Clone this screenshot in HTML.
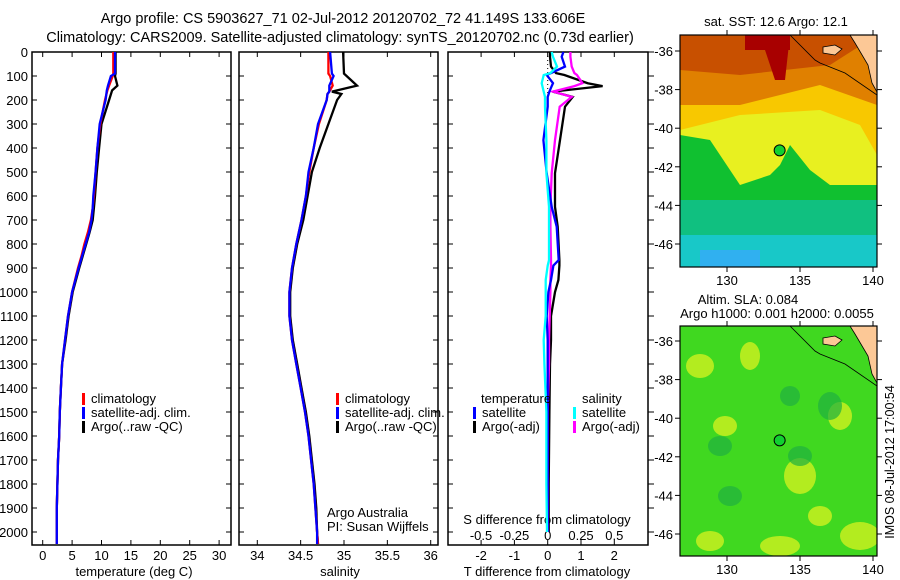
<!DOCTYPE html>
<html><head><meta charset="utf-8">
<style>
html,body{margin:0;padding:0;background:#fff;}
svg{display:block;font-family:"Liberation Sans",sans-serif;}
text{font-size:13px;fill:#000;}
</style></head>
<body>
<svg id="fig" width="900" height="580" viewBox="0 0 900 580" xmlns="http://www.w3.org/2000/svg">
<text x="343" y="23" text-anchor="middle" style="font-size:14.5px">Argo profile: CS 5903627_71 02-Jul-2012 20120702_72 41.149S 133.606E</text>
<text x="340" y="42" text-anchor="middle" style="font-size:14.5px">Climatology: CARS2009. Satellite-adjusted climatology: synTS_20120702.nc (0.73d earlier)</text>
<g id="plots"></g>
<g id="maps"></g>
</svg>
<script>
// ---- data (depth in dbar) ----
const tDepth = [0, 90, 100, 140, 160, 200, 300, 400, 500, 600, 650, 700, 750, 800, 850, 900, 1000, 1100, 1200, 1300, 1400, 1500, 1600, 1700, 1800, 1900, 2000, 2050];
const tClim  = [12.0, 12.0, 11.9, 11.3, 11.0, 10.6, 9.8, 9.3, 9.0, 8.7, 8.5, 8.2, 7.7, 7.1, 6.6, 6.0, 5.0, 4.3, 3.8, 3.3, 3.1, 2.9, 2.8, 2.6, 2.5, 2.4, 2.4, 2.4];
const tSat   = [12.3, 12.3, 11.6, 11.1, 10.9, 10.7, 9.7, 9.3, 9.0, 8.6, 8.5, 8.3, 7.9, 7.3, 6.7, 6.1, 5.0, 4.3, 3.8, 3.3, 3.1, 2.9, 2.8, 2.6, 2.5, 2.4, 2.4, 2.4];
const tArgo  = [12.4, 12.4, 12.3, 12.7, 11.8, 11.3, 10.0, 9.6, 9.2, 8.9, 8.7, 8.5, 8.0, 7.4, 6.8, 6.2, 5.1, 4.4, 3.9, 3.3, 3.1, 2.9, 2.8, 2.6, 2.5, 2.4, 2.4, 2.4];
const sDepth = [0, 90, 100, 140, 165, 175, 200, 300, 400, 500, 600, 700, 800, 900, 1000, 1100, 1200, 1300, 1400, 1500, 1600, 1700, 1800, 1900, 2000, 2050];
const sClim  = [34.82, 34.82, 34.84, 34.87, 34.83, 34.81, 34.80, 34.71, 34.65, 34.60, 34.56, 34.51, 34.45, 34.40, 34.37, 34.37, 34.40, 34.45, 34.50, 34.55, 34.59, 34.62, 34.65, 34.67, 34.69, 34.70];
const sSat   = [34.84, 34.86, 34.88, 34.83, 34.83, 34.81, 34.80, 34.70, 34.65, 34.59, 34.56, 34.51, 34.45, 34.40, 34.37, 34.37, 34.40, 34.45, 34.50, 34.55, 34.59, 34.62, 34.65, 34.67, 34.69, 34.69];
const sArgo  = [34.99, 35.00, 35.03, 35.15, 34.86, 34.97, 34.92, 34.82, 34.72, 34.63, 34.58, 34.53, 34.46, 34.41, 34.38, 34.38, 34.41, 34.46, 34.51, 34.56, 34.60, 34.63, 34.66, 34.68, 34.69, 34.70];
const dDepth = [0, 20, 61, 88, 96, 130, 142, 165, 187, 228, 367, 505, 645, 728, 867, 890, 950, 1000, 1100, 1200, 1300, 1500, 1800, 2000];
const dTSat  = [0.47, 0.42, 0.52, 0.1, -0.03, 0.16, 0.12, 0.05, 0.0, 0.0, -0.13, -0.03, 0.12, 0.27, 0.33, 0.17, 0.1, 0.02, -0.03, 0.0, 0.0, 0.0, 0.0, 0.0];
const dTArgo = [0.07, 0.07, 0.1, 0.25, 0.5, 1.2, 1.65, 0.15, 0.75, 0.52, 0.37, 0.22, 0.22, 0.3, 0.35, 0.35, 0.32, 0.22, 0.1, 0.1, 0.07, 0.05, 0.03, 0.03];
const dSSat  = [0.03, 0.04, 0.07, 0.02, -0.03, -0.045, -0.04, -0.03, -0.02, -0.02, -0.01, -0.01, 0.01, 0.01, 0.01, 0.0, -0.015, -0.015, -0.015, -0.03, -0.025, -0.01, -0.01, -0.005];
const dSArgo = [0.17, 0.17, 0.18, 0.2, 0.22, 0.26, 0.2, 0.04, 0.18, 0.09, 0.055, 0.03, 0.02, 0.02, 0.025, 0.025, 0.02, 0.02, 0.015, 0.01, 0.01, 0.0, 0.0, 0.0];
const depthTicks = [0,100,200,300,400,500,600,700,800,900,1000,1100,1200,1300,1400,1500,1600,1700,1800,1900,2000];
const tTicks = [0,5,10,15,20,25,30];
const sTicks = [34,34.5,35,35.5,36];
const dTTicks = [-2,-1,0,1,2];
const dSTicks = [-0.5,-0.25,0,0.25,0.5];
const lonTicks = [130,135,140];
const latTicks = [-36,-38,-40,-42,-44,-46];

const NS="http://www.w3.org/2000/svg";
function mk(tag, attrs, parent){const e=document.createElementNS(NS,tag);for(const k in attrs)e.setAttribute(k,attrs[k]);(parent||document.getElementById('plots')).appendChild(e);return e;}
const yD = d => 52 + 0.24*d;
const xT = t => 42.7 + 5.88*t;
const xS = s => 257.3 + 86.7*(s-34);
const xDT = v => 547.7 + 33.3*v;
const xDS = v => 547.7 + 133.3*v;
function stepPath(xs, ds, fx){let p='';for(let i=0;i<xs.length;i++){p+=(i?'L':'M')+fx(xs[i]).toFixed(1)+','+yD(ds[i]).toFixed(1);}return p;}

const panels=[{x0:32,x1:231,name:'temperature-panel'},{x0:239,x1:438,name:'salinity-panel'},{x0:448,x1:648,name:'difference-panel'}];
panels.forEach((p,i)=>{
  const g=mk('g',{});
  
  
  const r=mk('rect',{x:p.x0,y:52,width:p.x1-p.x0,height:493,fill:'none',stroke:'#000','stroke-width':1.5},g);
  
  
  depthTicks.forEach(d=>{
    mk('line',{x1:p.x0,x2:p.x0+5,y1:yD(d),y2:yD(d),stroke:'#000'},g);
    if(i<2) mk('line',{x1:p.x1-5,x2:p.x1,y1:yD(d),y2:yD(d),stroke:'#000'},g);
    else mk('line',{x1:p.x1,x2:p.x1+6,y1:yD(d),y2:yD(d),stroke:'#000'},g);
  });
});
depthTicks.forEach(d=>{const t=mk('text',{x:28,y:yD(d)+5,'text-anchor':'end'});t.textContent=d;
  
  });
function xTicks(vals, fx, y, labelFmt, top){vals.forEach(v=>{const x=fx(v);mk('line',{x1:x,x2:x,y1:545,y2:540,stroke:'#000'});if(top)mk('line',{x1:x,x2:x,y1:52,y2:57,stroke:'#000'});
  const t=mk('text',{x:x,y:y,'text-anchor':'middle'});t.textContent=labelFmt(v);
  
  });}
xTicks(tTicks,xT,560,v=>v,true);
xTicks(sTicks,xS,560,v=>v,true);
xTicks(dTTicks,xDT,560,v=>v,true);
dSTicks.forEach(v=>{const t=mk('text',{x:xDS(v),y:540,'text-anchor':'middle'});t.textContent=(v<0?'-':'')+String(Math.abs(v));
  
  });
function label(x,y,s,name,anchor){const t=mk('text',{x:x,y:y,'text-anchor':anchor||'middle'});t.textContent=s;
  
  return t;}
label(134,576,'temperature (deg C)','temperature-axis-title');
label(340,576,'salinity','salinity-axis-title');
label(547,576,'T difference from climatology','t-difference-axis-title');
label(547,524,'S difference from climatology','s-difference-axis-title');
function series(xs,ds,fx,color,name){const p=mk('path',{d:stepPath(xs,ds,fx),fill:'none',stroke:color,'stroke-width':2.3,'stroke-linejoin':'miter'});
  
  }
series(tArgo,tDepth,xT,'#000','temperature-argo-line');
series(tClim,tDepth,xT,'#ff0000','temperature-climatology-line');
series(tSat,tDepth,xT,'#0000ff','temperature-satellite-line');
series(sArgo,sDepth,xS,'#000','salinity-argo-line');
series(sClim,sDepth,xS,'#ff0000','salinity-climatology-line');
series(sSat,sDepth,xS,'#0000ff','salinity-satellite-line');
mk('line',{x1:xDT(0),x2:xDT(0),y1:52,y2:110,stroke:'#000','stroke-dasharray':'1,3'});
series(dTArgo,dDepth,xDT,'#000','t-diff-argo-line');
series(dSArgo,dDepth,xDS,'#ff00ff','s-diff-argo-line');
series(dTSat,dDepth,xDT,'#0000ff','t-diff-satellite-line');
series(dSSat,dDepth,xDS,'#00ffff','s-diff-satellite-line');
function legend(x,y,color,s,name){mk('rect',{x:x-1,y:y-10,width:3,height:12,fill:color});label(x+8,y,s,name,'start');}
legend(83,403,'#ff0000','climatology','legend-climatology');
legend(83,417,'#0000ff','satellite-adj. clim.','legend-satellite-adj');
legend(83,431,'#000','Argo(..raw -QC)','legend-argo');
legend(337,403,'#ff0000','climatology','legend-climatology-2');
legend(337,417,'#0000ff','satellite-adj. clim.','legend-satellite-adj-2');
legend(337,431,'#000','Argo(..raw -QC)','legend-argo-2');
label(327,517,'Argo Australia','credit-argo-australia','start');
label(327,531,'PI: Susan Wijffels','credit-pi','start');
label(481,403,'temperature','legend-temperature-heading','start');
legend(474,417,'#0000ff','satellite','legend-t-satellite');
legend(474,431,'#000','Argo(-adj)','legend-t-argo');
label(582,403,'salinity','legend-salinity-heading','start');
legend(574,417,'#00ffff','satellite','legend-s-satellite');
legend(574,431,'#ff00ff','Argo(-adj)','legend-s-argo');

// ---- maps ----
const M=document.getElementById('maps');
function mapFrame(y0,y1,lat36,kind){
  const g=mk('g',{},M);
  
  
  const x0=680,x1=877,w=x1-x0,h=y1-y0;
  const cid='clip'+kind;
  const cp=mk('clipPath',{id:cid},g);mk('rect',{x:x0,y:y0,width:w,height:h},cp);
  const c=mk('g',{'clip-path':'url(#'+cid+')'},g);
  if(kind==='sst'){
    mk('rect',{x:x0,y:y0,width:w,height:h,fill:'#10c030'},c);
    mk('rect',{x:x0,y:y0+165,width:w,height:70,fill:'#10c080'},c);
    mk('rect',{x:x0,y:y0+200,width:w,height:40,fill:'#18c8c8'},c);
    mk('rect',{x:x0+20,y:y0+215,width:60,height:20,fill:'#30b0f0'},c);
    mk('path',{d:`M${x0},${y0+100} L${x0+30},${y0+105} L${x0+40},${y0+120} L${x0+60},${y0+150} L${x0+90},${y0+140} L${x0+100},${y0+130} L${x0+110},${y0+110} L${x0+130},${y0+135} L${x0+150},${y0+150} L${x1},${y0+150} L${x1},${y0} L${x0},${y0}Z`,fill:'#e8f020'},c);
    mk('path',{d:`M${x0},${y0} L${x1},${y0} L${x1},${y0+120} L${x0+180},${y0+90} L${x0+140},${y0+75} L${x0+60},${y0+80} L${x0},${y0+95}Z`,fill:'#f8c800'},c);
    mk('path',{d:`M${x0},${y0} L${x1},${y0} L${x1},${y0+70} L${x0+140},${y0+50} L${x0+60},${y0+70} L${x0},${y0+70}Z`,fill:'#e08000'},c);
    mk('path',{d:`M${x0},${y0} L${x1},${y0} L${x0+150},${y0+30} L${x0+60},${y0+40} L${x0},${y0+35}Z`,fill:'#c85000'},c);
    mk('path',{d:`M${x0+80},${y0} L${x0+110},${y0} L${x0+105},${y0+45} L${x0+95},${y0+45}Z`,fill:'#a80000'},c);
    mk('rect',{x:x0+65,y:y0,width:45,height:15,fill:'#a80000'},c);
  } else {
    mk('rect',{x:x0,y:y0,width:w,height:h,fill:'#40d820'},c);
    [[20,40,14,12],[70,30,10,14],[45,100,12,10],[120,150,16,18],[100,220,20,10],[160,90,12,14],[180,210,20,14],[30,215,14,10],[140,190,12,10]].forEach(b=>mk('ellipse',{cx:x0+b[0],cy:y0+b[1],rx:b[2],ry:b[3],fill:'#c8f020',opacity:0.85},c));
    [[40,120,12,10],[120,130,12,10],[150,80,12,14],[50,170,12,10],[110,70,10,10]].forEach(b=>mk('ellipse',{cx:x0+b[0],cy:y0+b[1],rx:b[2],ry:b[3],fill:'#20b040',opacity:0.7},c));
  }
  mk('path',{d:`M${x0+170},${y0} L${x1},${y0} L${x1},${y0+57} L${x0+192},${y0+48} L${x0+188},${y0+30} L${x0+175},${y0+8}Z`,fill:'#fcc896',stroke:'#000','stroke-width':0.8},c);
  mk('path',{d:`M${x0+143},${y0+12} L${x0+155},${y0+10} L${x0+162},${y0+14} L${x0+155},${y0+20} L${x0+143},${y0+18}Z`,fill:'#fcc896',stroke:'#000','stroke-width':0.8},c);
  mk('path',{d:`M${x0+110},${y0} L${x0+135},${y0+25} L${x0+140},${y0+28} L${x0+165},${y0+38} L${x1},${y0+60}`,fill:'none',stroke:'#000','stroke-width':0.8},c);
  mk('rect',{x:x0,y:y0,width:w,height:h,fill:'none',stroke:'#000','stroke-width':1.2},g);
  const lonX=l=>727+14.6*(l-130), latY=l=>lat36+19.3*(-36-l);
  lonTicks.forEach(l=>{mk('line',{x1:lonX(l),x2:lonX(l),y1:y0,y2:y0-5,stroke:'#000'},g);mk('line',{x1:lonX(l),x2:lonX(l),y1:y1,y2:y1+5,stroke:'#000'},g);
    const t=mk('text',{x:lonX(l),y:y1+18,'text-anchor':'middle'},g);t.textContent=l;
    
    });
  latTicks.forEach(l=>{mk('line',{x1:x0,x2:x0-5,y1:latY(l),y2:latY(l),stroke:'#000'},g);mk('line',{x1:x1,x2:x1+5,y1:latY(l),y2:latY(l),stroke:'#000'},g);
    const t=mk('text',{x:673,y:latY(l)+5,'text-anchor':'end'},g);t.textContent=l;
    
    });
  const m=mk('circle',{cx:lonX(133.606),cy:latY(-41.149),r:5.5,fill:'#10d030',stroke:'#000','stroke-width':1},g);
  
  
}
mapFrame(35,267,51,'sst');
mapFrame(326,556,341,'sla');
label(776,26,'sat. SST: 12.6 Argo: 12.1','sst-map-title');
label(748,304,'Altim. SLA: 0.084','sla-map-title');
label(777,318,'Argo h1000: 0.001 h2000: 0.0055','sla-map-subtitle');
const ts=label(0,0,'IMOS 08-Jul-2012 17:00:54','timestamp','middle');
ts.setAttribute('transform','translate(894,462) rotate(-90)');
ts.setAttribute('style','font-size:12.5px');
</script>
</body></html>
